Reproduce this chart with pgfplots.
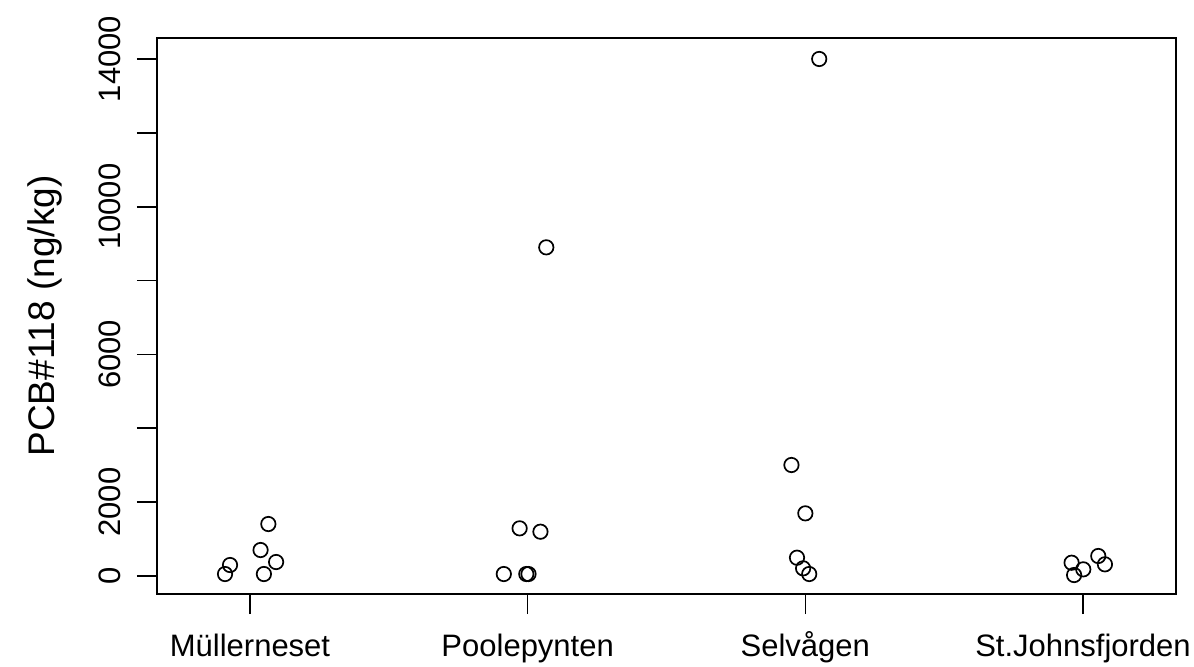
\documentclass[border=0pt]{standalone}
\usepackage{fontspec}
\setmainfont{Liberation Sans}
\usepackage{pgfplots}
\pgfplotsset{compat=1.18}
\begin{document}
\begin{tikzpicture}
\useasboundingbox (-78.5pt,-36pt) rectangle (518.5pt,297pt);
\begin{axis}[
  at={(0,0)}, anchor=south west,
  scale only axis, width=509.5pt, height=278pt,
  xmin=0.665, xmax=4.335, ymin=-487, ymax=14568,
  xtick={1,2,3,4},
  xticklabels={Müllerneset,Poolepynten,Selvågen,St.Johnsfjorden},
  ytick={0,2000,6000,10000,14000},
  extra y ticks={4000,8000,12000}, extra y tick labels={},
  scaled ticks=false,
  /pgf/number format/assume math mode=true,
  /pgf/number format/1000 sep={},
  tick align=outside, major tick length=10pt,
  tick style={black, line width=0.8pt},
  axis line style={line width=1.3pt},
  xtick pos=bottom, ytick pos=left,
  tick label style={font=\fontsize{15.5}{18}\selectfont},
  yticklabel style={xshift=-8pt, rotate=90, anchor=south, inner sep=0pt, text depth=0pt},
  xticklabel style={yshift=-10pt, anchor=north, inner sep=0pt, text height=11.1pt, text depth=3.5pt},
  ylabel={PCB\#118 (ng/kg)},
  ylabel style={font=\fontsize{18.5}{22}\selectfont, at={(axis description cs:-0.11,0.5)}, anchor=center},
  clip=false,
]
\addplot[only marks, mark=o, mark size=3.6pt, mark options={line width=0.85pt, black}] coordinates {
(1.066,1408) (1.038,704) (1.094,379) (1.050,54) (0.928,298) (0.910,54)
(1.971,1291) (2.046,1200) (1.914,54) (1.995,54) (2.003,54) (2.067,8900)
(2.950,3006) (3.000,1697) (2.970,496) (2.992,208) (3.014,54) (3.050,14000)
(3.959,360) (4.001,181) (3.968,27) (4.055,542) (4.079,317)
};
\end{axis}
\end{tikzpicture}
\end{document}
